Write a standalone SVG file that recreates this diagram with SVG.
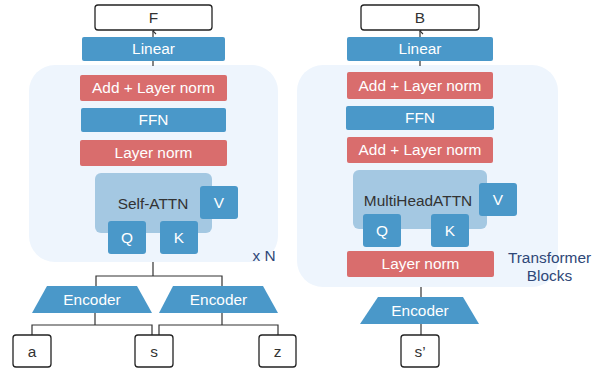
<svg xmlns="http://www.w3.org/2000/svg" width="596" height="368" viewBox="0 0 596 368">
<defs>
<marker id="ah" markerWidth="8" markerHeight="8" refX="4" refY="1" orient="auto-start-reverse" markerUnits="userSpaceOnUse">
<polyline points="1,4 4,1 7,4" fill="none" stroke="#333" stroke-width="1.1"/>
</marker>
<style>
text{font-family:"Liberation Sans",Arial,sans-serif;font-size:15.4px;text-anchor:middle}
.panel{fill:#EEF5FD}
.blue{fill:#4A98C9}
.red{fill:#D96D6D}
.att{fill:#A4C8E2}
.wb{fill:#fff;stroke:#222;stroke-width:1.3}
.wt{fill:#fff}
.dt{fill:#333}
.lbl{fill:#2E4778}
.ln{fill:none;stroke:#333;stroke-width:1.2}
</style>
</defs>
<g id="panels">
<rect id="panel-left" class="panel" x="29" y="65" width="249" height="197" rx="26"/>
<rect id="panel-right" class="panel" x="297" y="65" width="261" height="222" rx="26"/>
</g>
<g id="connectors">
<line class="ln" x1="153" y1="37" x2="153" y2="31" marker-end="url(#ah)"/>
<line class="ln" x1="153" y1="61" x2="153" y2="66"/>
<line class="ln" x1="420" y1="37" x2="420" y2="31" marker-end="url(#ah)"/>
<line class="ln" x1="420" y1="61" x2="420" y2="66"/>
<polyline class="ln" points="153,262 153,276"/>
<polyline class="ln" points="96,287 96,276 222,276 222,287"/>
<polyline class="ln" points="95,313 95,325"/>
<polyline class="ln" points="32,336 32,325 152,325 152,336"/>
<polyline class="ln" points="222,313 222,325"/>
<polyline class="ln" points="159,336 159,325 278,325 278,336"/>
<polyline class="ln" points="421,287 421,297"/>
<polyline class="ln" points="421,324 421,336"/>
</g>
<g id="F"><rect class="wb" x="95" y="5" width="117" height="25" rx="3"/><text class="dt" x="153.5" y="23.3">F</text></g>
<g id="linear-left"><rect class="blue" x="82" y="37" width="143" height="24" rx="2"/><text class="wt" x="153.5" y="54.3">Linear</text></g>
<g id="addnorm-left"><rect class="red" x="80" y="75" width="147" height="26" rx="2"/><text class="wt" x="153.5" y="93.3">Add + Layer norm</text></g>
<g id="ffn-left"><rect class="blue" x="81" y="108" width="145" height="24" rx="2"/><text class="wt" x="153.5" y="125.3">FFN</text></g>
<g id="layernorm-left"><rect class="red" x="80" y="140" width="147" height="26" rx="2"/><text class="wt" x="153.5" y="158.3">Layer norm</text></g>
<g id="selfattn"><rect class="att" x="95" y="173" width="117" height="60" rx="6"/><text class="dt" x="153" y="209">Self-ATTN</text></g>
<g id="V-left"><rect class="blue" x="200" y="186" width="38" height="33" rx="3"/><text class="wt" x="219" y="208">V</text></g>
<g id="Q-left"><rect class="blue" x="108" y="221" width="38" height="33" rx="3"/><text class="wt" x="127" y="243">Q</text></g>
<g id="K-left"><rect class="blue" x="160" y="221" width="38" height="33" rx="3"/><text class="wt" x="179" y="243">K</text></g>
<g id="xN"><text class="lbl" x="264" y="261">x N</text></g>
<g id="encoder-1"><polygon class="blue" points="32,313 47,286 137,286 152,313"/><text class="wt" x="92" y="305">Encoder</text></g>
<g id="encoder-2"><polygon class="blue" points="159,313 173,286 263,286 278,313"/><text class="wt" x="218.5" y="305">Encoder</text></g>
<g id="a"><rect class="wb" x="13" y="335" width="38" height="32" rx="3"/><text class="dt" x="32" y="357">a</text></g>
<g id="s"><rect class="wb" x="135" y="335" width="38" height="32" rx="3"/><text class="dt" x="154" y="357">s</text></g>
<g id="z"><rect class="wb" x="259" y="335" width="37" height="32" rx="3"/><text class="dt" x="277.5" y="357">z</text></g>

<g id="B"><rect class="wb" x="361" y="5" width="118" height="25" rx="3"/><text class="dt" x="420" y="23.3">B</text></g>
<g id="linear-right"><rect class="blue" x="347" y="37" width="146" height="24" rx="2"/><text class="wt" x="420" y="54.3">Linear</text></g>
<g id="addnorm-right-1"><rect class="red" x="347" y="72" width="146" height="27" rx="2"/><text class="wt" x="420" y="91">Add + Layer norm</text></g>
<g id="ffn-right"><rect class="blue" x="346" y="106" width="148" height="24" rx="2"/><text class="wt" x="420" y="123">FFN</text></g>
<g id="addnorm-right-2"><rect class="red" x="347" y="137" width="146" height="26" rx="2"/><text class="wt" x="420" y="155">Add + Layer norm</text></g>
<g id="multihead"><rect class="att" x="353" y="170" width="134" height="59" rx="6"/><text class="dt" x="418" y="206">MultiHeadATTN</text></g>
<g id="V-right"><rect class="blue" x="479" y="183" width="38" height="33" rx="3"/><text class="wt" x="498" y="205">V</text></g>
<g id="Q-right"><rect class="blue" x="363" y="214" width="38" height="33" rx="3"/><text class="wt" x="382" y="236">Q</text></g>
<g id="K-right"><rect class="blue" x="431" y="214" width="38" height="33" rx="3"/><text class="wt" x="450" y="236">K</text></g>
<g id="layernorm-right"><rect class="red" x="347" y="251" width="147" height="26" rx="2"/><text class="wt" x="420.5" y="269">Layer norm</text></g>
<g id="transformer-label"><text class="lbl" x="549.5" y="263">Transformer</text><text class="lbl" x="549.5" y="281">Blocks</text></g>
<g id="encoder-right"><polygon class="blue" points="360,324 378,297 463,297 479,324"/><text class="wt" x="420" y="316">Encoder</text></g>
<g id="s-prime"><rect class="wb" x="401" y="335" width="38" height="32" rx="3"/><text class="dt" x="420" y="357">s’</text></g>
</svg>
